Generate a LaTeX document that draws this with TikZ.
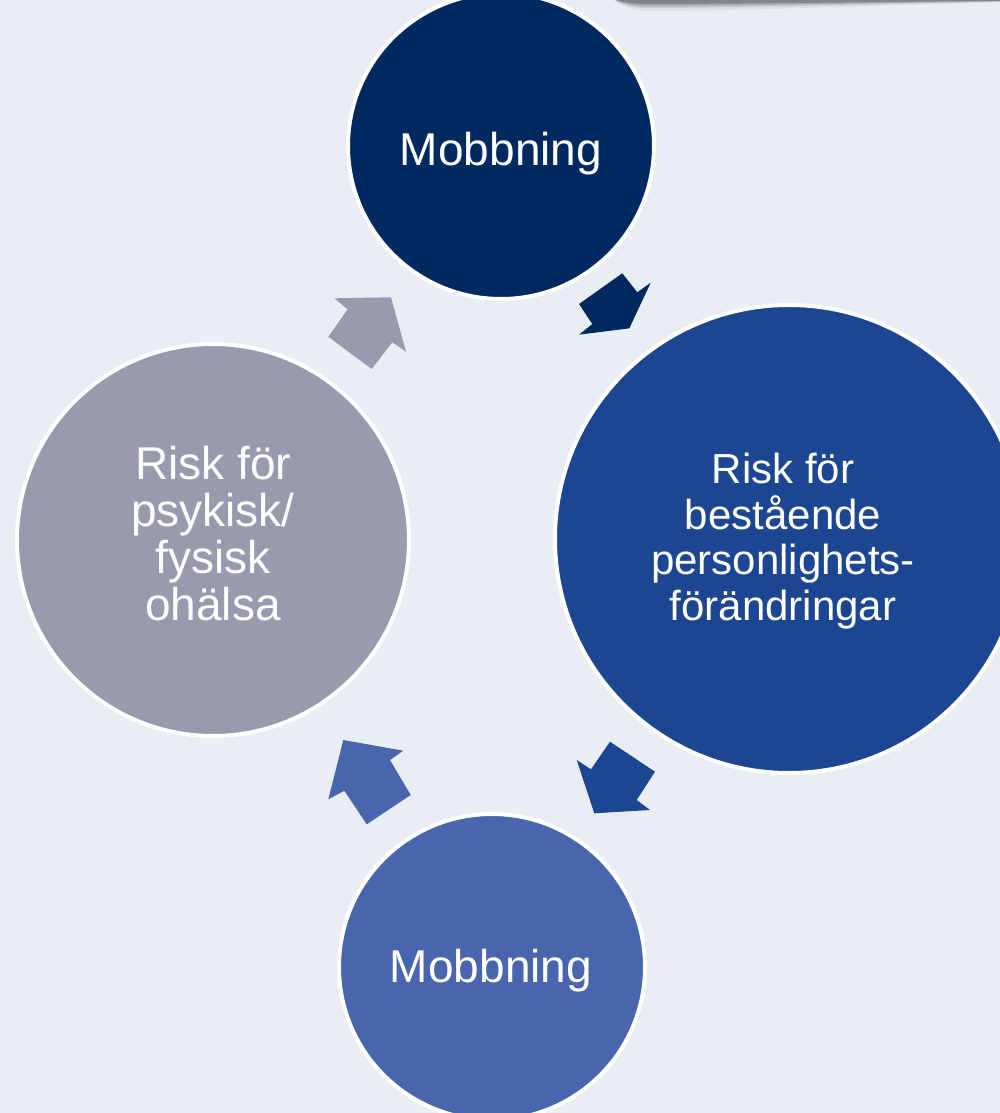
\documentclass[tikz,border=0pt]{standalone}
\usepackage{fontspec}
\setmainfont{Liberation Sans}
\definecolor{bg}{RGB}{232,238,243}
\definecolor{cnavy}{RGB}{0,41,95}
\definecolor{cblue}{RGB}{28,69,146}
\definecolor{cmid}{RGB}{73,101,173}
\definecolor{cgray}{RGB}{152,154,174}
\tikzset{
  bubble/.style={circle, draw=white, line width=4pt, text=white, align=center, inner sep=0pt},
  big/.style={font=\fontsize{46}{47}\selectfont},
  small/.style={font=\fontsize{42}{45.5}\selectfont}
}
\begin{document}
\begin{tikzpicture}[x=1pt,y=-1pt]
\fill[bg] (0,0) rectangle (1000,1113);
\useasboundingbox (0,0) rectangle (1000,1113);
\begin{scope}
\clip (0,0) rectangle (1000,1113);
% shadow at top
\foreach \o/\t in {0.06/11,0.1/8,0.14/6,0.22/4}{
  \fill[black,opacity=\o] (612,-2) -- (1002,-2) -- (1002,\t*0.2) .. controls (850,\t*0.6) and (720,\t) .. (650,\t) .. controls (630,\t) and (620,\t*0.5) .. (612,-2) -- cycle;
}
\node[bubble, fill=cnavy, minimum size=306pt] (top) at (501,146) {};
\node[big, text=white] (toptext) at (501,154) {Mobbning};
\node[bubble, fill=cblue, minimum size=468pt] (right) at (789,539) {};
\node[small, text=white, align=center] (righttext) at (783,541) {Risk för\\bestående\\personlighets-\\förändringar};
\node[bubble, fill=cmid, minimum size=306pt] (bottom) at (492,967) {};
\node[big, text=white] (bottomtext) at (491,971) {Mobbning};
\node[bubble, fill=cgray, minimum size=392pt] (left) at (213,540) {};
\node[big, text=white, align=center] (lefttext) at (213,534) {Risk för\\psykisk/\\fysisk\\ohälsa};
% block arrows
\fill[cnavy] (622.3,273.3) -- (637.3,292.3) -- (650.7,282.7) -- (629.3,328.3) -- (579,334.7) -- (592.3,324) -- (579,304) -- cycle;
\fill[cgray] (334.3,298.3) -- (391,297.3) -- (406,351.7) -- (392.3,342.3) -- (371.7,369) -- (328.3,336.7) -- (347.7,309.3) -- cycle;
\fill[cblue] (610,741.7) -- (655,771.7) -- (636.7,800) -- (650,810) -- (594.3,813.3) -- (576.7,760) -- (591,769.3) -- cycle;
\fill[cmid] (343.3,740) -- (403.3,750.7) -- (390,760) -- (410.7,795) -- (366.7,824.3) -- (344.3,790.7) -- (328.3,799.3) -- cycle;
\end{scope}
\end{tikzpicture}
\end{document}
